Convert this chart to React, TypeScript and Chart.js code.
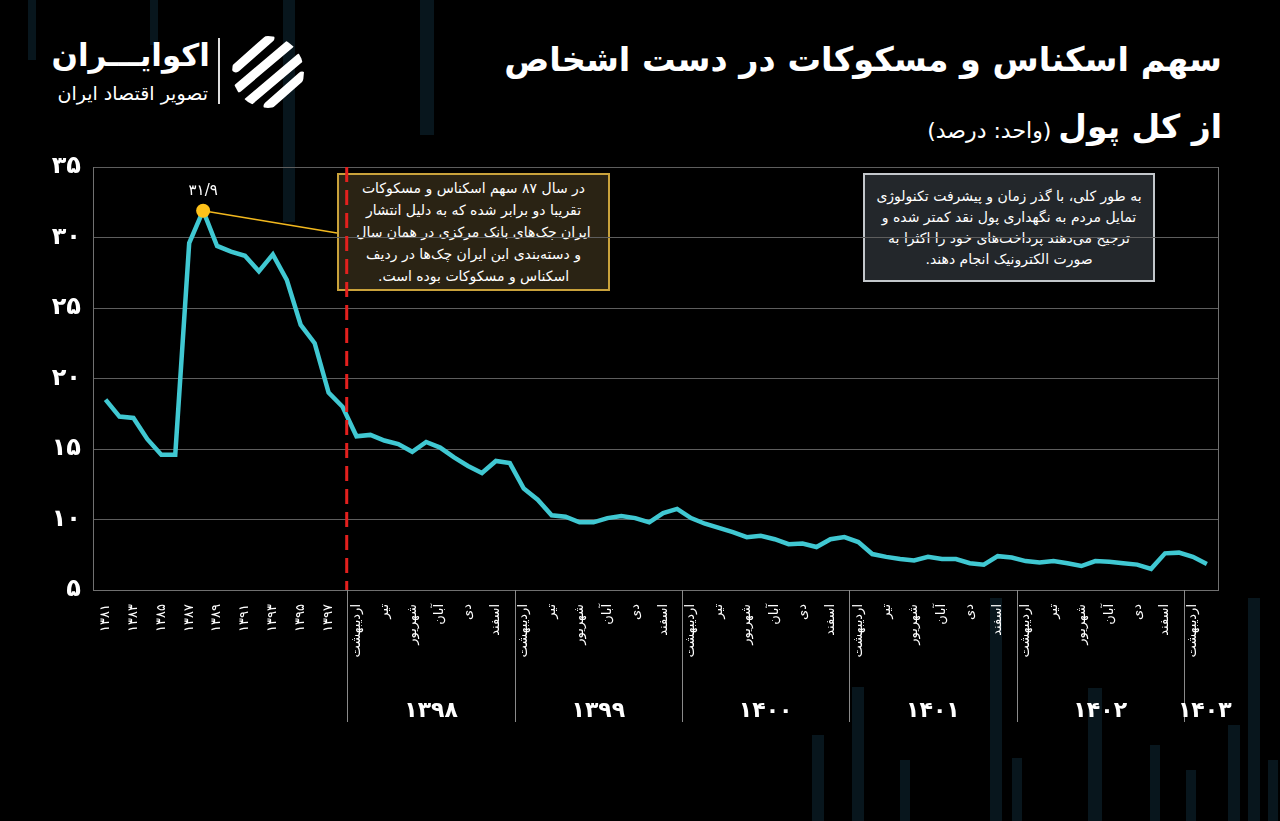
import React, { useEffect, useRef } from 'react';
import { Chart, registerables } from 'chart.js';

Chart.register(...registerables);

// ---------- data ----------
const annualYears = [1381, 1382, 1383, 1384, 1385, 1386, 1387, 1388, 1389, 1390, 1391, 1392, 1393, 1394, 1395, 1396, 1397];
const annualValues = [18.5, 17.3, 17.2, 15.7, 14.6, 14.6, 29.6, 31.9, 29.4, 29.0, 28.7, 27.6, 28.8, 27.0, 23.8, 22.5, 19.0];

const monthNames = ['فروردین', 'اردیبهشت', 'خرداد', 'تیر', 'مرداد', 'شهریور', 'مهر', 'آبان', 'آذر', 'دی', 'بهمن', 'اسفند'];
const monthlyYears = [1398, 1399, 1400, 1401, 1402, 1403];
const values1398 = [18.0, 15.9, 16.0, 15.6, 15.35, 14.8, 15.5, 15.1, 14.4, 13.8, 13.3, 14.15];
const values1399 = [14.0, 12.2, 11.4, 10.3, 10.2, 9.8, 9.8, 10.1, 10.25, 10.1, 9.8, 10.45];
const values1400 = [10.75, 10.1, 9.7, 9.4, 9.1, 8.75, 8.85, 8.6, 8.25, 8.3, 8.05, 8.6];
const values1401 = [8.75, 8.4, 7.55, 7.35, 7.2, 7.1, 7.35, 7.2, 7.2, 6.9, 6.8, 7.4];
const values1402 = [7.3, 7.05, 6.95, 7.05, 6.9, 6.7, 7.05, 7.0, 6.9, 6.8, 6.5, 7.6];
const values1403 = [7.65, 7.35, 6.85];
const monthlyValues = [values1398, values1399, values1400, values1401, values1402, values1403];

const yMin = 5;
const yMax = 35;
const yStep = 5;

const titleLine1 = 'سهم اسکناس و مسکوکات در دست اشخاص';
const titleLine2 = 'از کل پول';
const unitText = '(واحد: درصد)';
const note1 = [
  'در سال ۸۷ سهم اسکناس و مسکوکات',
  'تقریبا دو برابر شده که به دلیل انتشار',
  'ایران چک‌های بانک مرکزی در همان سال',
  'و دسته‌بندی این ایران چک‌ها در ردیف',
  'اسکناس و مسکوکات بوده است.',
];
const note2 = [
  'به طور کلی، با گذر زمان و پیشرفت تکنولوژی',
  'تمایل مردم به نگهداری پول نقد کمتر شده و',
  'ترجیح می‌دهند پرداخت‌های خود را اکثرا به',
  'صورت الکترونیک انجام دهند.',
];

// ---------- derived ----------
const toFa = (v: number | string) =>
  String(v).replace(/[0-9]/g, (d) => '۰۱۲۳۴۵۶۷۸۹'[Number(d)]).replace('.', '/');

const allLabels: string[] = [
  ...annualYears.map((y) => toFa(y)),
  ...monthlyValues.flatMap((vals) => vals.map((_, i) => monthNames[i])),
];
const allValues: number[] = [...annualValues, ...monthlyValues.flat()];
const yearBlocks = monthlyYears.map((y, k) => {
  const start = annualValues.length + monthlyValues.slice(0, k).reduce((s, a) => s + a.length, 0);
  return { year: y, start, len: monthlyValues[k].length };
});
const peakIdx = allValues.indexOf(Math.max(...allValues));

// ---------- layout constants ----------
const BOX1 = { left: 337, top: 173, width: 273, height: 118 };
const BOX2 = { left: 863, top: 173, width: 292, height: 109 };
const LEADER_Y = 233;
const FA = '"DejaVu Sans", sans-serif';

const overlayPlugin = {
  id: 'overlay',
  beforeDatasetsDraw(chart: any) {
    const { ctx } = chart;
    const xs = chart.scales.x;
    const ys = chart.scales.y;
    const px = xs.getPixelForValue(peakIdx);
    const py = ys.getPixelForValue(allValues[peakIdx]);
    ctx.save();
    ctx.strokeStyle = '#F2B81E';
    ctx.lineWidth = 1.5;
    ctx.beginPath();
    ctx.moveTo(px, py);
    ctx.lineTo(BOX1.left, LEADER_Y);
    ctx.stroke();
    ctx.restore();
  },
  afterDatasetsDraw(chart: any) {
    const { ctx, chartArea } = chart;
    const xs = chart.scales.x;
    const ys = chart.scales.y;
    ctx.save();
    // right border
    ctx.strokeStyle = '#707070';
    ctx.lineWidth = 1;
    ctx.beginPath();
    ctx.moveTo(Math.round(chartArea.right) + 0.5, chartArea.top);
    ctx.lineTo(Math.round(chartArea.right) + 0.5, chartArea.bottom);
    ctx.stroke();
    // year separators & labels
    ctx.strokeStyle = '#8a8a8a';
    ctx.fillStyle = '#ffffff';
    ctx.font = `bold 22px ${FA}`;
    ctx.textAlign = 'center';
    ctx.textBaseline = 'middle';
    yearBlocks.forEach((b) => {
      const sx = Math.round(xs.getPixelForValue(b.start + 0.35)) + 0.5;
      ctx.beginPath();
      ctx.moveTo(sx, chartArea.bottom);
      ctx.lineTo(sx, chartArea.bottom + 132);
      ctx.stroke();
      const cx = xs.getPixelForValue(b.start + 0.35 + b.len / 2);
      ctx.fillText(toFa(b.year), cx, chartArea.bottom + 121);
    });
    // red dashed divider
    const rx = xs.getPixelForValue(yearBlocks[0].start + 0.3);
    ctx.strokeStyle = '#E3201E';
    ctx.lineWidth = 3;
    ctx.setLineDash([15, 8]);
    ctx.beginPath();
    ctx.moveTo(rx, chartArea.top);
    ctx.lineTo(rx, chartArea.bottom);
    ctx.stroke();
    ctx.setLineDash([]);
    // peak label
    const px = xs.getPixelForValue(peakIdx);
    const py = ys.getPixelForValue(allValues[peakIdx]);
    ctx.font = `15px ${FA}`;
    ctx.fillStyle = '#ffffff';
    ctx.fillText(toFa(allValues[peakIdx]), px, py - 20);
    ctx.restore();
  },
};

const bgBars = [
  { x: 283, top: 0, h: 222, w: 12 },
  { x: 420, top: 0, h: 135, w: 14 },
  { x: 28, top: 0, h: 60, w: 8 },
  { x: 150, top: 0, h: 45, w: 8 },
  { x: 812, top: 735, h: 90, w: 12 },
  { x: 852, top: 687, h: 140, w: 12 },
  { x: 900, top: 760, h: 70, w: 10 },
  { x: 990, top: 598, h: 230, w: 12 },
  { x: 1012, top: 758, h: 70, w: 10 },
  { x: 1088, top: 688, h: 140, w: 14 },
  { x: 1150, top: 745, h: 80, w: 10 },
  { x: 1186, top: 770, h: 60, w: 10 },
  { x: 1228, top: 725, h: 100, w: 12 },
  { x: 1248, top: 598, h: 230, w: 12 },
  { x: 1268, top: 760, h: 70, w: 10 },
];

function Logo() {
  return (
    <div style={{ position: 'absolute', left: 40, top: 30, width: 280, height: 80 }}>
      <div
        dir="rtl"
        style={{
          position: 'absolute', right: 110, top: 6, color: '#fff', fontFamily: FA,
          fontWeight: 'bold', fontSize: 31, lineHeight: '38px', whiteSpace: 'nowrap',
        }}
      >
        اکوایـــران
      </div>
      <div
        dir="rtl"
        style={{
          position: 'absolute', right: 112, top: 52, color: '#fff', fontFamily: FA,
          fontSize: 19, lineHeight: '22px', whiteSpace: 'nowrap',
        }}
      >
        تصویر اقتصاد ایران
      </div>
      <div style={{ position: 'absolute', left: 178, top: 8, width: 2, height: 66, background: '#ddd' }} />
      <svg style={{ position: 'absolute', left: 190, top: 4 }} width={76} height={76} viewBox="0 0 76 76">
        <defs>
          <clipPath id="lc">
            <circle cx="38" cy="38" r="36" />
          </clipPath>
        </defs>
        <g clipPath="url(#lc)" stroke="#fff" strokeWidth="9" strokeLinecap="round" fill="none">
          <line x1="6" y1="34" x2="40" y2="4" />
          <line x1="8" y1="54" x2="60" y2="10" />
          <line x1="18" y1="68" x2="70" y2="24" />
          <line x1="38" y1="72" x2="72" y2="42" />
        </g>
      </svg>
    </div>
  );
}

function NoteBox({ box, lines, bg, border, lh, fs }: any) {
  return (
    <div
      dir="rtl"
      style={{
        position: 'absolute', left: box.left, top: box.top, width: box.width, height: box.height,
        boxSizing: 'border-box', background: bg, border: `2px solid ${border}`,
        display: 'flex', flexDirection: 'column', justifyContent: 'center', alignItems: 'center',
        color: '#fff', fontFamily: FA, fontSize: fs, fontWeight: 'normal', lineHeight: lh,
      }}
    >
      {lines.map((l: string, i: number) => (
        <div key={i} style={{ whiteSpace: 'nowrap' }}>{l}</div>
      ))}
    </div>
  );
}

export default function App() {
  const ref = useRef<HTMLCanvasElement>(null);

  useEffect(() => {
    const canvas = ref.current;
    if (!canvas) return;
    const chart = new Chart(canvas, {
      type: 'line',
      data: {
        datasets: [
          {
            data: allValues.map((v, i) => ({ x: i, y: v })),
            borderColor: '#40C8D2',
            borderWidth: 4.5,
            tension: 0,
            pointRadius: allValues.map((_, i) => (i === peakIdx ? 7 : 0)),
            pointBackgroundColor: '#FFC21A',
            pointBorderWidth: 0,
            fill: false,
          },
        ],
      },
      options: {
        responsive: false,
        animation: false,
        devicePixelRatio: 1,
        layout: { padding: { top: 167, right: 62, left: 0, bottom: 0 } },
        plugins: {
          legend: { display: false },
          tooltip: { enabled: false },
          title: { display: false },
        },
        scales: {
          x: {
            type: 'linear',
            min: -0.9,
            max: allValues.length - 1 + 0.8,
            grid: { display: false },
            border: { display: true, color: '#707070' },
            afterBuildTicks: (scale: any) => {
              scale.ticks = allLabels.map((_, i) => ({ value: i }));
            },
            afterFit: (scale: any) => {
              scale.height = 821 - 590;
            },
            ticks: {
              autoSkip: false,
              minRotation: 90,
              maxRotation: 90,
              padding: 6,
              color: '#ffffff',
              font: { family: FA, size: 13 },
              callback: (value: any) => {
                const i = Math.round(Number(value));
                return i % 2 === 0 ? allLabels[i] : '';
              },
            },
          },
          y: {
            min: yMin,
            max: yMax,
            grid: { color: '#5e5e5e', drawTicks: false },
            border: { display: true, color: '#707070' },
            afterFit: (scale: any) => {
              scale.width = 93;
            },
            ticks: {
              stepSize: yStep,
              padding: 12,
              color: '#ffffff',
              font: { family: FA, size: 24, weight: 'bold' },
              callback: (v: any) => toFa(v),
            },
          },
        },
      },
      plugins: [overlayPlugin],
    } as any);
    return () => chart.destroy();
  }, []);

  return (
    <div
      style={{
        position: 'fixed', left: 0, top: 0, width: 1280, height: 821, background: '#000',
        overflow: 'hidden', fontFamily: FA,
      }}
    >
      {bgBars.map((b, i) => (
        <div
          key={i}
          style={{ position: 'absolute', left: b.x, top: b.top, width: b.w, height: b.h, background: '#08161d' }}
        />
      ))}
      <Logo />
      <div
        dir="rtl"
        style={{
          position: 'absolute', right: 58, top: 37, color: '#fff', fontWeight: 'bold', fontSize: 33.5,
          lineHeight: '46px', whiteSpace: 'nowrap', fontFamily: FA,
        }}
      >
        {titleLine1}
      </div>
      <div
        dir="rtl"
        style={{
          position: 'absolute', right: 58, top: 103, color: '#fff', whiteSpace: 'nowrap', fontFamily: FA,
          lineHeight: '48px',
        }}
      >
        <span style={{ fontWeight: 'bold', fontSize: 33 }}>{titleLine2}</span>
        <span style={{ fontSize: 22 }}> {unitText}</span>
      </div>
      <NoteBox box={BOX1} lines={note1} bg="#2a2314" border="#C9A23B" lh="22px" fs={14} />
      <NoteBox box={BOX2} lines={note2} bg="#23272b" border="#c3c7cb" lh="21px" fs={14} />
      <canvas
        ref={ref}
        width={1280}
        height={821}
        style={{ position: 'absolute', left: 0, top: 0, width: 1280, height: 821 }}
      />
    </div>
  );
}
